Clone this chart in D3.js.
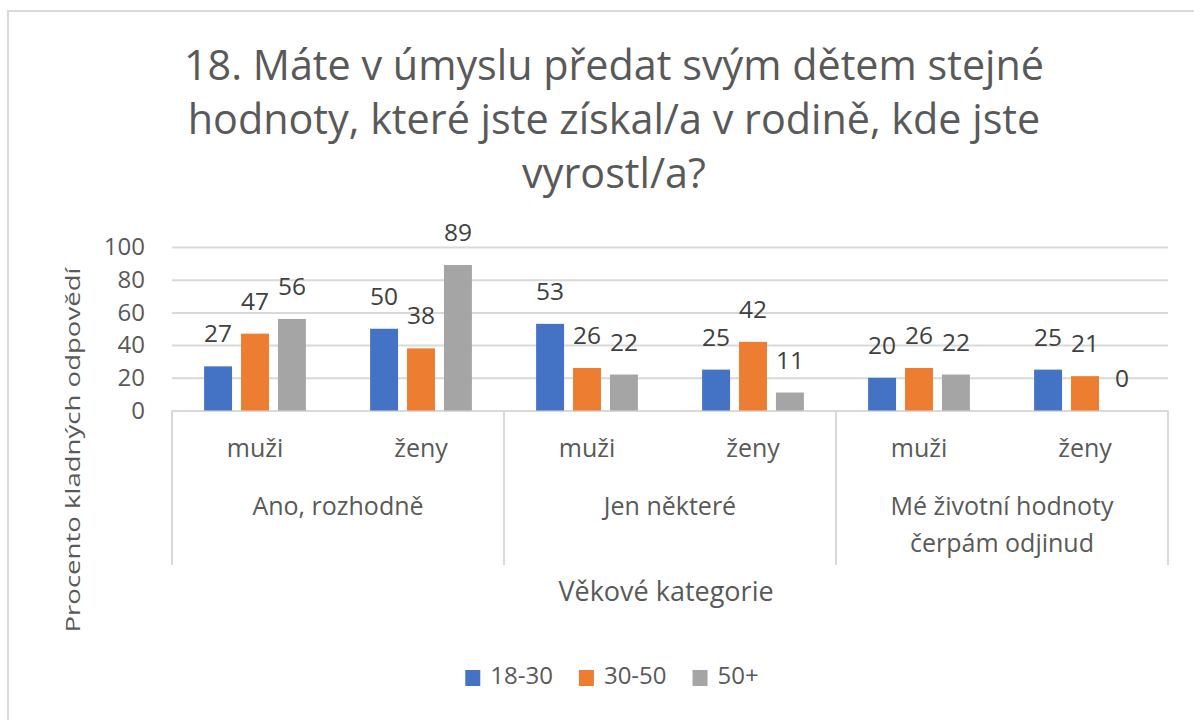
<!DOCTYPE html>
<html>
<head>
<meta charset="utf-8">
<script src="https://cdn.jsdelivr.net/npm/d3@7"></script>
<style>
  body { margin: 0; background: #fff; }
  #wrapper svg { display: block; font-family: "Open Sans", sans-serif; }
</style>
</head>
<body>
<div id="wrapper"></div>
<script>
const titleLines = [
  "18. Máte v úmyslu předat svým dětem stejné",
  "hodnoty, které jste získal/a v rodině, kde jste",
  "vyrostl/a?"
]
const groups = ["Ano, rozhodně", "Jen některé", "Mé životní hodnoty čerpám odjinud"]
const groupLines = [["Ano, rozhodně"], ["Jen některé"], ["Mé životní hodnoty", "čerpám odjinud"]]
const genders = ["muži", "ženy"]
const series = ["18-30", "30-50", "50+"]
const colors = ["#4472C4", "#ED7D31", "#A5A5A5"]
// order: Ano muži, Ano ženy, Jen muži, Jen ženy, Mé muži, Mé ženy
const values1830 = [27, 50, 53, 25, 20, 25]
const values3050 = [47, 38, 26, 42, 26, 21]
const values50 = [56, 89, 22, 11, 22, 0]
const yTicks = [0, 20, 40, 60, 80, 100]

function drawChart() {
  const seriesValues = [values1830, values3050, values50]
  const dataset = []
  groups.forEach((g, gi) => {
    genders.forEach((s, si) => {
      series.forEach((k, ki) => {
        dataset.push({group: g, gender: s, series: k, value: seriesValues[ki][gi * 2 + si], color: colors[ki]})
      })
    })
  })

  let dimensions = {
    width: 1194,
    height: 720,
    margin: {top: 247, right: 26, bottom: 309.5, left: 172}
  }
  dimensions.boundedWidth = dimensions.width - dimensions.margin.left - dimensions.margin.right
  dimensions.boundedHeight = dimensions.height - dimensions.margin.top - dimensions.margin.bottom

  const wrapper = d3.select("#wrapper")
    .append("svg")
      .attr("width", dimensions.width)
      .attr("height", dimensions.height)

  // chart frame (top + left edge visible)
  wrapper.append("rect")
    .attr("x", 8)
    .attr("y", 11)
    .attr("width", 1300)
    .attr("height", 800)
    .attr("fill", "none")
    .attr("stroke", "#d9d9d9")
    .attr("stroke-width", 2)

  wrapper.append("g")
    .selectAll("text")
    .data(titleLines)
    .enter().append("text")
      .attr("x", 614)
      .attr("y", (d, i) => 80 + i * 54)
      .attr("text-anchor", "middle")
      .attr("fill", "#595959")
      .style("font-size", "41.3px")
      .text(d => d)

  const bounds = wrapper.append("g")
    .attr("transform", `translate(${dimensions.margin.left},${dimensions.margin.top})`)

  const yScale = d3.scaleLinear()
    .domain([0, 100])
    .range([dimensions.boundedHeight, 0])

  const xGroup = d3.scaleBand()
    .domain(groups)
    .range([0, dimensions.boundedWidth])

  const xSub = d3.scaleBand()
    .domain(genders)
    .range([0, xGroup.bandwidth()])

  const xSeries = d3.scaleBand()
    .domain(series)
    .range([0, xSub.bandwidth()])
    .paddingInner(0.243)
    .paddingOuter(0.87)

  // gridlines
  const grid = bounds.append("g")
    .call(d3.axisLeft(yScale).tickValues(yTicks).tickSize(-dimensions.boundedWidth).tickFormat(""))
  grid.select(".domain").remove()
  grid.selectAll("line").attr("stroke", "#d9d9d9").attr("stroke-width", 2)

  const yAxis = bounds.append("g")
    .call(d3.axisLeft(yScale).tickValues(yTicks).tickSize(0).tickPadding(27))
  yAxis.select(".domain").remove()
  yAxis.selectAll("text")
    .attr("fill", "#595959")
    .style("font-size", "24px")
    .style("font-family", "Open Sans")

  wrapper.append("text")
    .attr("transform", "translate(80,450) rotate(-90)")
    .attr("text-anchor", "middle")
    .attr("fill", "#595959")
    .attr("textLength", 365)
    .attr("lengthAdjust", "spacingAndGlyphs")
    .style("font-size", "20px")
    .text("Procento kladných odpovědí")

  // bars
  const xPos = d => xGroup(d.group) + xSub(d.gender) + xSeries(d.series)
  bounds.append("g")
    .selectAll("rect")
    .data(dataset)
    .enter().append("rect")
      .attr("x", xPos)
      .attr("y", d => yScale(d.value))
      .attr("width", xSeries.bandwidth())
      .attr("height", d => yScale(0) - yScale(d.value))
      .attr("fill", d => d.color)

  bounds.append("g")
    .selectAll("text")
    .data(dataset)
    .enter().append("text")
      .attr("x", d => xPos(d) + xSeries.bandwidth() / 2)
      .attr("y", d => yScale(d.value) - 24)
      .attr("text-anchor", "middle")
      .attr("fill", "#404040")
      .style("font-size", "24.5px")
      .text(d => d.value)

  // category axis
  const xAxis = bounds.append("g")
    .attr("transform", `translate(0,${dimensions.boundedHeight})`)

  const sepX = groups.map(g => xGroup(g)).concat([dimensions.boundedWidth])
  xAxis.selectAll("line.sep")
    .data(sepX)
    .enter().append("line")
      .attr("class", "sep")
      .attr("x1", d => d)
      .attr("x2", d => d)
      .attr("y1", 0)
      .attr("y2", 154.5)
      .attr("stroke", "#d9d9d9")
      .attr("stroke-width", 2)

  groups.forEach((g, gi) => {
    const gAxis = xAxis.append("g")
      .attr("transform", `translate(${xGroup(g)},0)`)
    gAxis.selectAll("text.sub")
      .data(genders)
      .enter().append("text")
        .attr("class", "sub")
        .attr("x", d => xSub(d) + xSub.bandwidth() / 2)
        .attr("y", 46.5)
        .attr("text-anchor", "middle")
        .attr("fill", "#595959")
        .style("font-size", "25px")
        .text(d => d)
    gAxis.selectAll("text.grp")
      .data(groupLines[gi])
      .enter().append("text")
        .attr("class", "grp")
        .attr("x", xGroup.bandwidth() / 2)
        .attr("y", (d, i) => 104.5 + i * 37)
        .attr("text-anchor", "middle")
        .attr("fill", "#595959")
        .style("font-size", "25px")
        .text(d => d)
  })

  wrapper.append("text")
    .attr("x", 666)
    .attr("y", 601)
    .attr("text-anchor", "middle")
    .attr("fill", "#595959")
    .style("font-size", "27px")
    .text("Věkové kategorie")

  // legend
  const legend = wrapper.append("g")
  const items = legend.selectAll("g")
    .data(series)
    .enter().append("g")
  items.append("rect")
    .attr("width", 15)
    .attr("height", 16)
    .attr("y", 670)
    .attr("fill", (d, i) => colors[i])
  items.append("text")
    .attr("x", 25)
    .attr("y", 684)
    .attr("fill", "#595959")
    .style("font-size", "24px")
    .text(d => d)

  const widths = []
  items.each(function() {
    widths.push(25 + d3.select(this).select("text").node().getComputedTextLength())
  })
  const total = d3.sum(widths) + 26 * (widths.length - 1)
  let offset = 612 - total / 2
  items.attr("transform", (d, i) => {
    const x = offset
    offset += widths[i] + 26
    return `translate(${x},0)`
  })
}

drawChart()
</script>
</body>
</html>
